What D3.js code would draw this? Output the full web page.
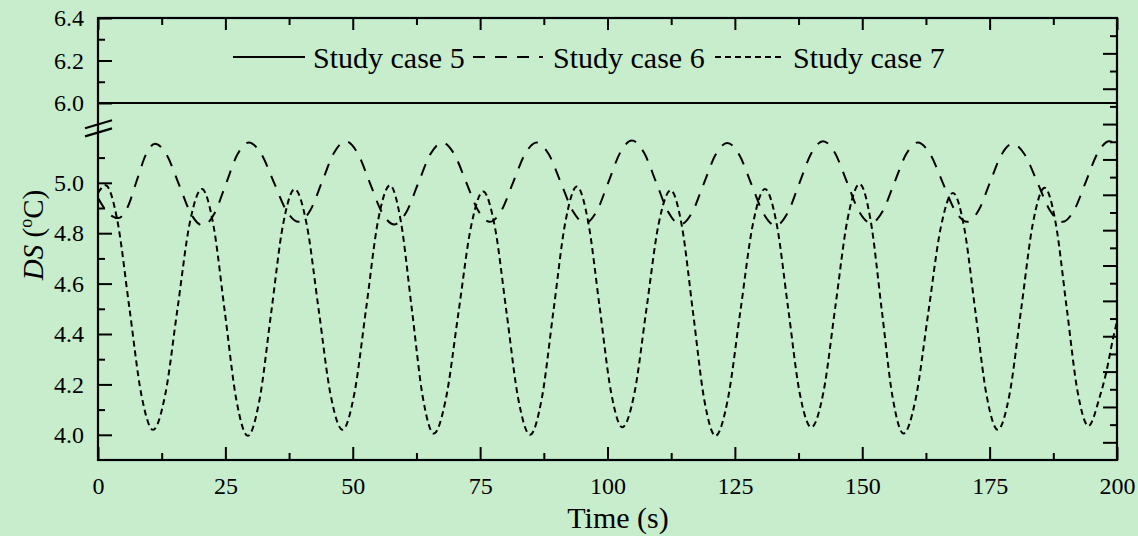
<!DOCTYPE html>
<html>
<head>
<meta charset="utf-8">
<script src="https://cdn.jsdelivr.net/npm/d3@7"></script>
<style>
html,body{margin:0;padding:0;background:#C7EDCC;}
svg{display:block;}
text{font-family:"Liberation Serif","Times New Roman",serif;fill:#000;}
</style>
</head>
<body>
<svg id="chart" width="1138" height="536"></svg>
<script>
// ---------------- data ----------------
const seriesNames = ["Study case 5", "Study case 6", "Study case 7"];
const xTicks = [0, 25, 50, 75, 100, 125, 150, 175, 200];
const xMinorTicks = [12.5, 37.5, 62.5, 87.5, 112.5, 137.5, 162.5, 187.5];
const yTicksUpper = [6.0, 6.2, 6.4];
const yMinorUpper = [6.1, 6.3];
const yTicksLower = [4.0, 4.2, 4.4, 4.6, 4.8, 5.0];
const yMinorLower = [4.1, 4.3, 4.5, 4.7, 4.9, 5.1];
const yRightMajor = [4.0, 4.2, 4.4, 4.6, 4.8, 5.0, 5.2, 5.4, 5.6, 5.8, 6.0, 6.2];
const yRightMinor = [4.1, 4.3, 4.5, 4.7, 4.9, 5.1, 5.3, 5.5, 5.7, 5.9, 6.1, 6.3];

// Study case 5 (solid) [time s, DS °C]
const case5 = [[0,6.0],[25,6.0],[50,6.0],[75,6.0],[100,6.0],[125,6.0],[150,6.0],[175,6.0],[200,6.0]];

// Study case 6 (dashed)
const case6 = [
 [0,4.94],[2.0,4.88],[4.0,4.86],[5.8,4.903],[7.6,5.008],[9.4,5.112],[11.2,5.155],
 [13.55,5.108],[15.9,4.993],[18.25,4.877],[20.6,4.83],
 [22.85,4.878],[25.1,4.995],[27.35,5.112],[29.6,5.16],
 [32.05,5.114],[34.5,5.003],[36.95,4.891],[39.4,4.845],
 [41.7,4.892],[44.0,5.005],[46.3,5.118],[48.6,5.165],
 [50.98,5.117],[53.35,5.0],[55.72,4.883],[58.1,4.835],
 [60.48,4.882],[62.85,4.998],[65.22,5.113],[67.6,5.16],
 [69.92,5.114],[72.25,5.003],[74.58,4.891],[76.9,4.845],
 [79.2,4.891],[81.5,5.003],[83.8,5.114],[86.1,5.16],
 [88.48,5.113],[90.85,5.0],[93.22,4.887],[95.6,4.84],
 [97.9,4.888],[100.2,5.004],[102.5,5.12],[104.8,5.168],
 [107.18,5.119],[109.55,5.002],[111.92,4.884],[114.3,4.835],
 [116.6,4.882],[118.9,4.997],[121.2,5.111],[123.5,5.158],
 [125.88,5.11],[128.25,4.994],[130.62,4.878],[133.0,4.83],
 [135.32,4.879],[137.65,4.998],[139.98,5.116],[142.3,5.165],
 [144.65,5.118],[147.0,5.003],[149.35,4.887],[151.7,4.84],
 [154.0,4.887],[156.3,5.0],[158.6,5.113],[160.9,5.16],
 [163.32,5.114],[165.75,5.003],[168.18,4.891],[170.6,4.845],
 [172.82,4.89],[175.05,5.0],[177.28,5.11],[179.5,5.155],
 [181.95,5.11],[184.4,5.0],[186.85,4.89],[189.3,4.845],
 [191.6,4.892],[193.9,5.005],[196.2,5.118],[198.5,5.165],[200,5.155]
];

// Study case 7 (short dash)
const case7 = [
 [0,4.96],[1.5,4.99],[3.8,4.85],[6.15,4.505],[8.5,4.16],[10.8,4.02],
 [13.2,4.16],[15.6,4.50],[18.0,4.84],[20.4,4.975],
 [22.65,4.832],[24.9,4.486],[27.15,4.139],[29.4,3.996],
 [31.7,4.139],[34.0,4.486],[36.3,4.832],[38.6,4.975],
 [40.95,4.836],[43.3,4.498],[45.65,4.159],[48.0,4.02],
 [50.3,4.162],[52.65,4.505],[54.95,4.848],[57.3,4.99],
 [59.45,4.846],[61.6,4.498],[63.75,4.149],[65.9,4.005],
 [68.3,4.145],[70.75,4.485],[73.2,4.825],[75.6,4.965],
 [77.9,4.824],[80.2,4.483],[82.5,4.141],[84.8,4.0],
 [87.1,4.144],[89.4,4.493],[91.7,4.841],[94.0,4.985],
 [96.2,4.846],[98.45,4.508],[100.7,4.169],[102.9,4.03],
 [105.3,4.167],[107.65,4.50],[110.0,4.833],[112.4,4.97],
 [114.6,4.828],[116.8,4.483],[119.0,4.138],[121.2,3.996],
 [123.6,4.139],[126.05,4.486],[128.5,4.832],[130.9,4.975],
 [133.2,4.837],[135.45,4.503],[137.7,4.168],[140.0,4.03],
 [142.4,4.171],[144.75,4.513],[147.1,4.854],[149.5,4.995],
 [151.65,4.85],[153.8,4.50],[155.95,4.15],[158.1,4.005],
 [160.5,4.144],[162.95,4.483],[165.4,4.821],[167.8,4.96],
 [170.0,4.823],[172.2,4.49],[174.4,4.157],[176.6,4.02],
 [178.9,4.16],[181.2,4.50],[183.5,4.84],[185.8,4.98],
 [187.95,4.842],[190.1,4.508],[192.25,4.173],[194.4,4.035],
 [196.6,4.15],[197.8,4.24],[199.2,4.38],[200,4.45]
];

// ---------------- layout ----------------
const L = 98, R = 1117, T = 18, B = 460;
const upperLow = 124.25, lowerHigh = 132.4;

const svg = d3.select("#chart");
svg.append("rect").attr("width", 1138).attr("height", 536).attr("fill", "#C7EDCC");

const x = d3.scaleLinear().domain([0, 200]).range([L, R]);
const yUp = d3.scaleLinear().domain([5.9, 6.4]).range([upperLow, T]);
const yLo = d3.scaleLinear().domain([3.9, 5.2]).range([B, lowerHigh]);
const yRight = d3.scaleLinear().domain([3.9, 6.4]).range([B, T]);

const defs = svg.append("defs");
defs.append("clipPath").attr("id", "clipUp").append("rect")
  .attr("x", L).attr("y", T).attr("width", R - L).attr("height", upperLow - T);
defs.append("clipPath").attr("id", "clipLo").append("rect")
  .attr("x", L).attr("y", lowerHigh).attr("width", R - L).attr("height", B - lowerHigh);

function styleAxis(g) {
  g.select(".domain").remove();
  g.selectAll(".tick line").attr("stroke", "#000").attr("stroke-width", 2);
  g.selectAll(".tick text").attr("font-size", 24).attr("font-family", '"Liberation Serif", serif').attr("fill", "#000");
}

// bottom axis
svg.append("g").attr("transform", `translate(0,${B})`)
  .call(d3.axisBottom(x).tickValues(xTicks).tickSize(-13).tickPadding(17).tickFormat(d3.format("d")))
  .call(styleAxis);
svg.append("g").attr("transform", `translate(0,${B})`)
  .call(d3.axisBottom(x).tickValues(xMinorTicks).tickSize(-7).tickFormat(""))
  .call(styleAxis);
// top axis
svg.append("g").attr("transform", `translate(0,${T})`)
  .call(d3.axisTop(x).tickValues(xTicks).tickSize(-12).tickFormat(""))
  .call(styleAxis);
svg.append("g").attr("transform", `translate(0,${T})`)
  .call(d3.axisTop(x).tickValues(xMinorTicks).tickSize(-7).tickFormat(""))
  .call(styleAxis);

// left axis (broken)
svg.append("g").attr("transform", `translate(${L},0)`)
  .call(d3.axisLeft(yUp).tickValues(yTicksUpper).tickSize(-14).tickPadding(14).tickFormat(d3.format(".1f")))
  .call(styleAxis);
svg.append("g").attr("transform", `translate(${L},0)`)
  .call(d3.axisLeft(yUp).tickValues(yMinorUpper).tickSize(-7).tickFormat(""))
  .call(styleAxis);
svg.append("g").attr("transform", `translate(${L},0)`)
  .call(d3.axisLeft(yLo).tickValues(yTicksLower).tickSize(-14).tickPadding(14).tickFormat(d3.format(".1f")))
  .call(styleAxis);
svg.append("g").attr("transform", `translate(${L},0)`)
  .call(d3.axisLeft(yLo).tickValues(yMinorLower).tickSize(-7).tickFormat(""))
  .call(styleAxis);

// right axis (continuous, unlabeled)
svg.append("g").attr("transform", `translate(${R},0)`)
  .call(d3.axisLeft(yRight).tickValues(yRightMajor).tickSize(14).tickFormat(""))
  .call(styleAxis);
svg.append("g").attr("transform", `translate(${R},0)`)
  .call(d3.axisLeft(yRight).tickValues(yRightMinor).tickSize(7).tickFormat(""))
  .call(styleAxis);

// frame
svg.append("rect").attr("x", L).attr("y", T).attr("width", R - L).attr("height", B - T)
  .attr("fill", "none").attr("stroke", "#000").attr("stroke-width", 2.2);

// break marks
[upperLow, lowerHigh].forEach(yy => {
  svg.append("line").attr("x1", L - 13).attr("y1", yy + 4).attr("x2", L + 14).attr("y2", yy - 4)
    .attr("stroke", "#000").attr("stroke-width", 2.2);
});

// lines
const lineUp = d3.line().x(d => x(d[0])).y(d => yUp(d[1])).curve(d3.curveMonotoneX);
const lineLo = d3.line().x(d => x(d[0])).y(d => yLo(d[1])).curve(d3.curveMonotoneX);

svg.append("path").datum(case5).attr("d", lineUp).attr("clip-path", "url(#clipUp)")
  .attr("fill", "none").attr("stroke", "#000").attr("stroke-width", 2);
svg.append("path").datum(case6).attr("d", lineLo).attr("clip-path", "url(#clipLo)")
  .attr("fill", "none").attr("stroke", "#000").attr("stroke-width", 2).attr("stroke-dasharray", "12,10");
svg.append("path").datum(case7).attr("d", lineLo).attr("clip-path", "url(#clipLo)")
  .attr("fill", "none").attr("stroke", "#000").attr("stroke-width", 2).attr("stroke-dasharray", "6,4");

// legend
const legendItems = [
  {name: seriesNames[0], x1: 233, x2: 305, tx: 313, dash: null},
  {name: seriesNames[1], x1: 473, x2: 543, tx: 553, dash: "12,10"},
  {name: seriesNames[2], x1: 715, x2: 782, tx: 793, dash: "6,4"}
];
const lg = svg.append("g");
legendItems.forEach(it => {
  const ln = lg.append("line").attr("x1", it.x1).attr("x2", it.x2).attr("y1", 57).attr("y2", 57)
    .attr("stroke", "#000").attr("stroke-width", 2);
  if (it.dash) ln.attr("stroke-dasharray", it.dash);
  lg.append("text").attr("x", it.tx).attr("y", 68).attr("font-size", 30).text(it.name);
});

// axis titles
svg.append("text").attr("x", 618).attr("y", 528).attr("text-anchor", "middle")
  .attr("font-size", 30).text("Time (s)");

const yt = svg.append("text").attr("transform", "translate(43,235) rotate(-90)")
  .attr("text-anchor", "middle").attr("font-size", 29);
yt.append("tspan").attr("font-style", "italic").text("DS");
yt.append("tspan").text(" (");
yt.append("tspan").attr("font-size", 18).attr("dy", -11).text("o");
yt.append("tspan").attr("dy", 11).text("C)");
</script>
</body>
</html>
